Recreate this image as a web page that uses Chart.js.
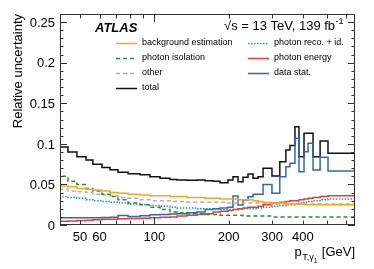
<!DOCTYPE html>
<html><head><meta charset="utf-8">
<script src="https://cdn.jsdelivr.net/npm/chart.js@4/dist/chart.umd.min.js"></script>
<style>html,body{margin:0;padding:0;background:#fff;overflow:hidden}#c{display:block}</style>
</head><body>
<div style="width:374px;height:269px;position:relative"><canvas id="c" width="374" height="269"></canvas></div>
<script>
// bin edges in GeV (leading photon pT)
const binEdges = [41.5,44.7,48.6,52.9,56.4,61.4,66.2,71.3,78.3,87.5,96,105.5,115.8,123.6,135.7,149,160.6,173,184.6,198.8,208.3,218.3,228.7,239.7,251.2,263.2,275.8,299.6,322.4,341.2,354.3,371.3,385.5,404,419.5,439.6,469.4,505.3,554.4,650];
const totalUnc = [0.102,0.096,0.090,0.084,0.080,0.075,0.071,0.068,0.065,0.063,0.062,0.0595,0.0575,0.056,0.0555,0.055,0.0555,0.0545,0.054,0.052,0.0555,0.0595,0.0533,0.0587,0.0628,0.0575,0.0595,0.0698,0.0605,0.078,0.0924,0.098,0.121,0.084,0.113,0.113,0.0841,0.1034,0.0883];
const dataStat = [0.0098,0.0088,0.0088,0.0088,0.009,0.009,0.0092,0.0095,0.0118,0.0105,0.0115,0.0125,0.013,0.0135,0.014,0.015,0.016,0.019,0.020,0.021,0.022,0.0357,0.0246,0.0308,0.0349,0.0378,0.0378,0.050,0.039,0.0595,0.0718,0.076,0.1068,0.0657,0.0903,0.1006,0.0677,0.0834,0.0665];
const bkgEstimation = [0.049,0.048,0.047,0.045,0.044,0.043,0.042,0.040,0.039,0.038,0.037,0.036,0.036,0.035,0.035,0.034,0.034,0.033,0.033,0.032,0.032,0.032,0.031,0.031,0.031,0.030,0.029,0.028,0.027,0.027,0.026,0.026,0.026,0.026,0.025,0.025,0.025,0.025,0.025];
const photonIsolation = [0.066,0.060,0.054,0.050,0.045,0.042,0.038,0.035,0.031,0.027,0.025,0.022,0.019,0.016,0.015,0.014,0.014,0.013,0.013,0.012,0.012,0.012,0.012,0.011,0.011,0.011,0.011,0.011,0.010,0.010,0.010,0.010,0.010,0.010,0.010,0.010,0.010,0.010,0.010];
const otherUnc = [0.045,0.044,0.042,0.041,0.040,0.038,0.037,0.036,0.034,0.033,0.031,0.030,0.030,0.029,0.029,0.028,0.028,0.028,0.028,0.028,0.027,0.027,0.027,0.027,0.027,0.027,0.027,0.027,0.026,0.026,0.026,0.026,0.026,0.026,0.026,0.026,0.026,0.026,0.026];
const photonRecoId = [0.036,0.035,0.034,0.033,0.031,0.030,0.029,0.028,0.027,0.026,0.025,0.024,0.023,0.022,0.021,0.021,0.020,0.020,0.019,0.019,0.019,0.019,0.019,0.020,0.020,0.020,0.021,0.022,0.023,0.024,0.025,0.025,0.026,0.027,0.028,0.029,0.030,0.031,0.032];
const photonEnergy = [0.004,0.0045,0.005,0.0055,0.006,0.0065,0.007,0.0072,0.0076,0.008,0.0084,0.009,0.0095,0.010,0.011,0.012,0.013,0.014,0.016,0.017,0.018,0.019,0.020,0.021,0.022,0.022,0.023,0.025,0.027,0.028,0.029,0.030,0.030,0.031,0.032,0.033,0.034,0.035,0.036];
const xTickValues = [50,60,70,80,90,100,200,300,400,500,600];
const xTickLabels = [50,60,100,200,300,400];
const yTickValues = [0,0.05,0.1,0.15,0.2,0.25];
const yTickLabels = ["0","0.05","0.1","0.15","0.2","0.25"];

const FONT = '"Liberation Sans", Arial, Helvetica, sans-serif';
function hist(vals){ return binEdges.map((e,i)=>({x:e, y: vals[Math.min(i, vals.length-1)]})); }
function ds(label, vals, color, dash){
  return {label, data: hist(vals), borderColor: color, borderWidth: 1.5, borderDash: dash||[], stepped:'after', pointRadius:0, fill:false, tension:0};
}
const series = [
  ds('background estimation', bkgEstimation, '#ffa31a'),
  ds('photon isolation', photonIsolation, '#2e8b2e', [4,3]),
  ds('other', otherUnc, '#b0b0b0', [4,3]),
  ds('photon reco. + id.', photonRecoId, '#17a5a5', [1.5,1.5]),
  ds('photon energy', photonEnergy, '#f03a30'),
  ds('data stat.', dataStat, '#2a6bb5'),
  ds('total', totalUnc, '#111111'),
];

const atlasPlugin = {
  id:'atlas',
  afterDraw(chart){
    const ctx = chart.ctx, a = chart.chartArea, xs = chart.scales.x, ys = chart.scales.y;
    ctx.save();
    ctx.strokeStyle = '#333'; ctx.lineWidth = 1; ctx.setLineDash([]);
    ctx.strokeRect(a.left+0.5, a.top+0.5, a.right-a.left-1, a.bottom-a.top-1);
    ctx.beginPath();
    for (let k=0;k<=26;k++){
      const v = k*0.01; const y = Math.round(ys.getPixelForValue(v))+0.5;
      const L = (k%5===0)?7:3.5;
      ctx.moveTo(a.left, y); ctx.lineTo(a.left+L, y);
      ctx.moveTo(a.right, y); ctx.lineTo(a.right-L, y);
    }
    xTickValues.forEach(v=>{
      const x = Math.round(xs.getPixelForValue(v))+0.5;
      const L = (v===100)?8:4.5;
      ctx.moveTo(x, a.bottom); ctx.lineTo(x, a.bottom-L);
      ctx.moveTo(x, a.top); ctx.lineTo(x, a.top+L);
    });
    ctx.stroke();
    ctx.fillStyle = '#000';
    // tick labels
    ctx.font = '13px '+FONT; ctx.textBaseline='alphabetic';
    ctx.textAlign='right';
    yTickValues.forEach((v,i)=>{ ctx.fillText(yTickLabels[i], 55, ys.getPixelForValue(v)+4.7); });
    ctx.textAlign='center';
    xTickLabels.forEach(v=>{ ctx.fillText(String(v), xs.getPixelForValue(v), 240.5); });
    // y title
    ctx.save();
    ctx.translate(18, 14); ctx.rotate(-Math.PI/2);
    ctx.font = '13px '+FONT; ctx.textAlign='right'; ctx.textBaseline='middle';
    ctx.fillText('Relative uncertainty', 0, 0);
    ctx.restore();
    // x title
    ctx.textBaseline='alphabetic'; ctx.textAlign='left';
    const big = '13px '+FONT, small = '9px '+FONT, tiny='7px '+FONT;
    ctx.font = big; const wp = ctx.measureText('p').width, wg = ctx.measureText(' [GeV]').width;
    ctx.font = small; const ws = ctx.measureText('T,γ').width;
    ctx.font = tiny; const w1 = ctx.measureText('1').width;
    let x0 = 355 - (wp+ws+w1+wg+1);
    const yb = 256;
    ctx.font = big; ctx.fillText('p', x0, yb); x0 += wp+0.5;
    ctx.font = small; ctx.fillText('T,γ', x0, yb+4); x0 += ws;
    ctx.font = tiny; ctx.fillText('1', x0, yb+7); x0 += w1+0.5;
    ctx.font = big; ctx.fillText(' [GeV]', x0, yb);
    ctx.font = 'italic bold 13px '+FONT;
    ctx.fillText('ATLAS', 95, 32);
    ctx.font = '13px '+FONT;
    const s1 = '\u221As = 13 TeV, 139 fb';
    ctx.fillText(s1, 224, 30);
    const ws1 = ctx.measureText(s1).width;
    ctx.font = '9px '+FONT; ctx.fillText('-1', 224+ws1+0.5, 24);
    const rows = [
      [series[0], 116, 43],[series[1],116,58],[series[2],116,73],[series[6],116,88],
      [series[3], 248, 43],[series[4],248,58],[series[5],248,73]
    ];
    ctx.font = '9px '+FONT; ctx.textBaseline='middle';
    rows.forEach(([s,x,y])=>{
      ctx.beginPath(); ctx.strokeStyle = s.borderColor; ctx.lineWidth = 1.5; ctx.setLineDash(s.borderDash);
      ctx.moveTo(x, y+0.5); ctx.lineTo(x+21, y+0.5); ctx.stroke();
      ctx.setLineDash([]);
      ctx.fillStyle='#000'; ctx.fillText(s.label, x+26, y);
    });
    ctx.restore();
  }
};

new Chart(document.getElementById('c'), {
  type:'line',
  data:{ datasets: series },
  options:{
    responsive:false, devicePixelRatio:1, animation:false,
    layout:{ padding:{ top:14, right:19, bottom:0, left:0 } },
    plugins:{ legend:{display:false}, tooltip:{enabled:false} },
    scales:{
      x:{ type:'logarithmic', min:41.5, max:650,
          grid:{display:false, drawTicks:false}, border:{display:false},
          afterBuildTicks: s => { s.ticks = xTickValues.map(v=>({value:v})); },
          afterFit: s => { s.height = 44; },
          ticks:{ display:false } },
      y:{ min:0, max:0.26,
          grid:{display:false, drawTicks:false}, border:{display:false},
          afterBuildTicks: s => { s.ticks = yTickValues.map(v=>({value:v})); },
          afterFit: s => { s.width = 60; },
          ticks:{ display:false } }
    }
  },
  plugins:[atlasPlugin]
});
</script>
</body></html>
